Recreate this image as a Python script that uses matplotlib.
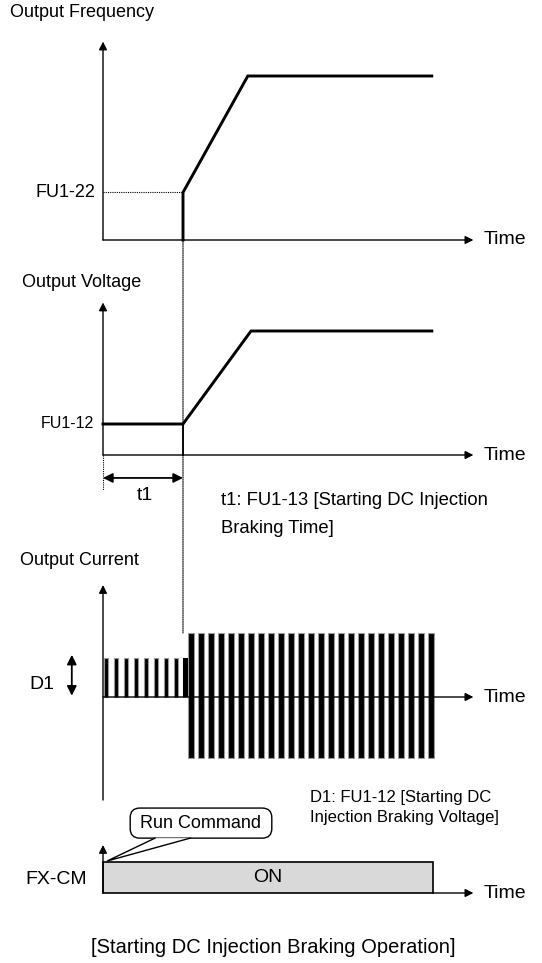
import matplotlib
matplotlib.use("Agg")
import matplotlib.pyplot as plt
from matplotlib.patches import Rectangle, ConnectionPatch, FancyBboxPatch, Polygon

plt.rcParams["font.family"] = ["Liberation Sans Narrow", "Liberation Sans", "DejaVu Sans"]

# ---- data (time in units of t1, levels relative to full scale) ----
t_dc_end = 1.0
t_axis_end = 4.63

freq_t = [1.0, 1.0, 1.81, 4.11]
freq_val = [0.0, 0.29, 1.0, 1.0]
fu1_22 = 0.29

volt_t = [0.0, 1.0, 1.85, 4.11]
volt_val = [0.25, 0.25, 1.0, 1.0]
fu1_12 = 0.25

dc_pulse_t = [0.0375, 0.1625, 0.2875, 0.4125, 0.5375, 0.6625, 0.7875, 0.9125, 1.03]
dc_pulse_amp = 0.61
run_pulse_t = [1.1, 1.225, 1.35, 1.475, 1.6, 1.725, 1.85, 1.975, 2.1, 2.225,
               2.35, 2.475, 2.6, 2.725, 2.85, 2.975, 3.1, 3.225, 3.35, 3.475,
               3.6, 3.725, 3.85, 3.975, 4.1]
run_amp_top = 1.0
run_amp_bot = -0.95

run_on = (0.0, 4.12)
on_level = 1.0

# "Run Command" callout (FX-CM panel units)
callout_box = (0.34, 1.77, 1.77, 0.97)      # x, y, width, height
callout_tail = [(0.65, 1.77), (0.05, 1.03), (1.09, 1.77)]

# ---- layout helpers ----
H = 963.0
W = 542.0
X0 = 103.0     # px position of t = 0
PX_T = 80.0    # px per time unit

fig = plt.figure(figsize=(5.42, 9.63), dpi=100)


def panel(top_px, bot_px, base_px, px_per_unit):
    ax = fig.add_axes([0, 1 - bot_px / H, 1, (bot_px - top_px) / H])
    ax.set_xlim(-X0 / PX_T, (W - X0) / PX_T)
    ax.set_ylim((base_px - bot_px) / px_per_unit, (base_px - top_px) / px_per_unit)
    ax.axis("off")
    return ax


def arrow(ax, start, end, style="-|>", lw=1.0, scale=12):
    ax.annotate("", xy=end, xytext=start,
                arrowprops=dict(arrowstyle=style, lw=lw, color="k",
                                mutation_scale=scale, shrinkA=0, shrinkB=0))


def time_label(ax):
    ax.text(t_axis_end + 0.13, 0, "Time", fontsize=14, ha="left", va="center")


ax_f = panel(0, 250, 240, 164)
ax_v = panel(250, 545, 455, 124)
ax_c = panel(545, 800, 697, 64)
ax_x = panel(800, 963, 893, 31)

# ---- output frequency ----
ax_f.text(-1.16, 1.39, "Output Frequency", fontsize=13, ha="left", va="center")
arrow(ax_f, (0, 0), (0, 1.21))
arrow(ax_f, (0, 0), (t_axis_end, 0))
time_label(ax_f)
ax_f.plot(freq_t, freq_val, color="k", lw=2.1, solid_joinstyle="miter")
ax_f.plot([0, t_dc_end], [fu1_22, fu1_22], color="k", lw=0.8, ls=(0, (1, 1)))
ax_f.text(-0.1, fu1_22, "FU1-22", fontsize=13, ha="right", va="center")

# ---- output voltage ----
ax_v.text(-1.01, 1.39, "Output Voltage", fontsize=13, ha="left", va="center")
arrow(ax_v, (0, 0), (0, 1.23))
arrow(ax_v, (0, 0), (t_axis_end, 0))
time_label(ax_v)
ax_v.plot(volt_t, volt_val, color="k", lw=2.1, solid_joinstyle="miter")
ax_v.plot([t_dc_end, t_dc_end], [0, fu1_12], color="k", lw=1.3)
ax_v.text(-0.11, fu1_12, "FU1-12", fontsize=11.5, ha="right", va="center")
ax_v.plot([0, 0], [0, -0.28], color="k", lw=0.8, ls=(0, (1, 1)))
arrow(ax_v, (0, -0.185), (t_dc_end, -0.185), style="<|-|>", lw=1.3, scale=14)
ax_v.text(0.52, -0.33, "t1", fontsize=14, ha="center", va="center")
ax_v.text(1.475, -0.365, "t1: FU1-13 [Starting DC Injection", fontsize=13.3,
          ha="left", va="center")
ax_v.text(1.475, -0.59, "Braking Time]", fontsize=13.3, ha="left", va="center")

# ---- output current ----
ax_c.text(-1.04, 2.14, "Output Current", fontsize=13, ha="left", va="center")
ax_c.bar(dc_pulse_t, dc_pulse_amp, width=0.06, bottom=0, color="k",
         edgecolor="#9a9a9a", lw=0.8)
ax_c.bar(run_pulse_t, run_amp_top - run_amp_bot, width=0.065, bottom=run_amp_bot,
         color="k", edgecolor="#9a9a9a", lw=0.8)
ax_c.add_patch(Rectangle((t_dc_end, 0), 0.06, dc_pulse_amp, color="k", lw=0))
arrow(ax_c, (0, -1.61), (0, 1.75))
arrow(ax_c, (0, 0), (t_axis_end, 0))
time_label(ax_c)
arrow(ax_c, (-0.39, 0.02), (-0.39, 0.66), style="<|-|>", lw=1.3, scale=14)
ax_c.text(-0.76, 0.19, "D1", fontsize=14, ha="center", va="center")
ax_c.text(2.59, -1.5625, "D1: FU1-12 [Starting DC", fontsize=12,
          ha="left", va="center")
ax_c.text(2.59, -1.89, "Injection Braking Voltage]", fontsize=12,
          ha="left", va="center")

# dotted guide from FU1-22 down to the current pulses
fig.add_artist(ConnectionPatch(xyA=(t_dc_end, fu1_22), coordsA=ax_f.transData,
                               xyB=(t_dc_end, run_amp_top), coordsB=ax_c.transData,
                               color="k", lw=0.8, ls=(0, (1, 1))))

# ---- FX-CM run command ----
ax_x.add_patch(Rectangle((run_on[0], 0), run_on[1] - run_on[0], on_level,
                         facecolor="#d9d9d9", edgecolor="k", lw=1.2))
ax_x.text((run_on[0] + run_on[1]) / 2, on_level / 2, "ON", fontsize=14,
          ha="center", va="center")
arrow(ax_x, (0, 0), (0, 1.55))
arrow(ax_x, (run_on[1], 0), (t_axis_end, 0))
time_label(ax_x)
ax_x.text(-0.59, 0.42, "FX-CM", fontsize=14, ha="center", va="center")

# speech bubble
bx, by, bw, bh = callout_box
ax_x.add_patch(FancyBboxPatch((bx, by), bw, bh,
                              boxstyle="round,pad=0,rounding_size=0.12",
                              mutation_aspect=80 / 31, fc="white", ec="k",
                              lw=1, zorder=3))
ax_x.add_patch(Polygon(callout_tail, closed=True, fc="white", ec="none", zorder=4))
tail_x = [p[0] for p in callout_tail]
tail_y = [p[1] for p in callout_tail]
ax_x.plot(tail_x, tail_y, color="k", lw=1, zorder=5, solid_joinstyle="miter")
ax_x.text(bx + bw / 2, by + bh / 2, "Run Command", fontsize=13,
          ha="center", va="center", zorder=6)

ax_x.text(2.125, -1.77, "[Starting DC Injection Braking Operation]",
          fontsize=14.5, ha="center", va="center")

fig.savefig("out.png", dpi=100)
